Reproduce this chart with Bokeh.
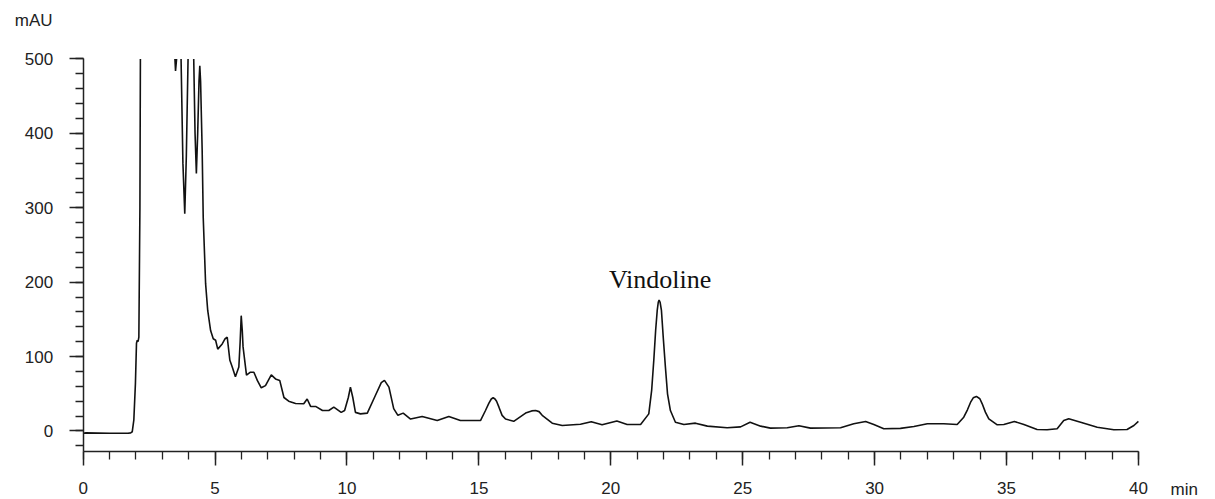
from bokeh.plotting import figure
from bokeh.models import Range1d, FixedTicker, Label, BoxAnnotation
from bokeh.embed import file_html
from bokeh.resources import INLINE

# Retention time (min) and absorbance (mAU)
# (values above the 500 mAU full scale are off-chart and only their crossings show)
time_min = [
    0.00, 0.10, 1.00, 1.70, 1.80, 1.86, 1.92, 1.98, 2.02, 2.05, 2.08, 2.11, 2.15, 2.17, 2.25,
    3.30, 3.45, 3.50, 3.54, 3.58, 3.68, 3.72, 3.78, 3.85, 3.91, 3.98, 4.05, 4.15, 4.19, 4.24,
    4.29, 4.34, 4.39, 4.42, 4.45, 4.51, 4.55, 4.64, 4.72, 4.83, 4.93, 5.02, 5.10, 5.27, 5.38,
    5.46, 5.56, 5.65, 5.77, 5.90, 5.95, 5.99, 6.03, 6.06, 6.19, 6.34, 6.47, 6.60, 6.75, 6.91,
    7.13, 7.29, 7.45, 7.61, 7.79, 8.05, 8.36, 8.49, 8.62, 8.81, 9.07, 9.31, 9.50, 9.78, 9.91,
    10.05, 10.13, 10.22, 10.32, 10.51, 10.77, 11.08, 11.30, 11.42, 11.59, 11.77, 11.93, 12.13,
    12.41, 12.85, 13.42, 13.86, 14.30, 15.06, 15.25, 15.38, 15.47, 15.54, 15.61, 15.67, 15.76,
    15.88, 16.01, 16.32, 16.77, 17.00, 17.15, 17.28, 17.40, 17.78, 18.16, 18.85, 19.26, 19.67,
    20.23, 20.62, 21.13, 21.44, 21.55, 21.63, 21.70, 21.76, 21.80, 21.83, 21.87, 21.92, 21.99,
    22.07, 22.15, 22.26, 22.45, 22.77, 23.21, 23.66, 24.41, 24.92, 25.28, 25.68, 26.05, 26.69,
    27.13, 27.57, 28.71, 29.21, 29.66, 29.97, 30.35, 30.98, 31.49, 32.00, 32.62, 33.13, 33.38,
    33.52, 33.64, 33.74, 33.86, 33.99, 34.08, 34.20, 34.33, 34.65, 34.90, 35.30, 35.66, 36.16,
    36.54, 36.92, 37.17, 37.36, 37.81, 38.44, 39.07, 39.57, 39.83, 40.00,
]
absorbance_mau = [
    -3, -2.5, -3, -3, -2.5, -1, 15, 64, 118, 122, 120, 126, 300, 520, 570,
    570, 520, 484, 500, 570, 560, 480, 360, 292, 370, 510, 570, 560, 500, 400,
    346, 400, 470, 491, 470, 377, 287, 198, 162, 135, 124, 122, 110, 117, 124,
    126, 95, 86, 73, 86, 120, 155, 135, 113, 75, 79, 79, 68, 58, 61,
    75.5, 70, 68, 45, 40, 37, 36.5, 43, 33, 33, 27.5, 27.5, 32, 25, 27.5,
    45, 59, 45, 25, 23, 24, 48, 65, 68, 59, 30, 21, 24,
    16, 19.5, 14, 19.5, 14, 14, 27.5, 37.4, 43, 44.6, 43, 40, 32,
    21, 16, 13, 24, 27, 27.5, 26, 21, 10.5, 7.4, 9, 12.5, 8.3,
    13.5, 8.7, 8.7, 23, 55, 95, 135, 162, 173, 176, 173, 162, 125,
    86, 50, 27.5, 11.8, 8.7, 10.5, 6.5, 4.3, 5.5, 11.8, 6.5, 3.8, 4.3,
    7, 3.8, 4.3, 9.7, 12.8, 8.7, 3, 3.5, 6, 9.7, 9.7, 8.7, 18.5,
    28.5, 38.7, 44.6, 46.4, 43.3, 36.5, 25.3, 16.4, 8.3, 8.7, 12.8, 8.7, 2,
    1.6, 3, 14, 16.4, 11.8, 5.1, 1.6, 2, 7.4, 12.8,
]

x_major = [0, 5, 10, 15, 20, 25, 30, 35, 40]
x_minor = list(range(0, 41))
y_major = [0, 100, 200, 300, 400, 500]
y_minor = list(range(-20, 501, 20))

x_axis_bounds = (0, 40)
y_axis_bounds = (-27, 500)

peak_name = "Vindoline"
peak_time = 21.87
peak_label_y = 203.6

AX = "#222222"

# The frame fills the whole canvas; the axes sit at fixed data locations so that
# the unit labels ("mAU", "min") outside the axes area can still be drawn.
p = figure(width=1207, height=499, output_backend="svg", toolbar_location=None,
           x_range=Range1d(-3.135, 42.62), y_range=Range1d(-92.1, 578.6),
           min_border=0)
p.outline_line_color = None
p.xgrid.visible = False
p.ygrid.visible = False
p.background_fill_color = "white"
p.border_fill_color = "white"

p.line(time_min, absorbance_mau, line_color="#111111", line_width=1.6)

# signal above full scale is cut off at the top of the y axis
p.add_layout(BoxAnnotation(left=x_axis_bounds[0], right=x_axis_bounds[1], bottom=y_axis_bounds[1],
                           fill_color="white", fill_alpha=1.0, line_color=None, level="glyph"))

for ax in (p.xaxis[0], p.yaxis[0]):
    ax.axis_line_color = AX
    ax.axis_line_width = 1.5
    ax.major_tick_line_color = AX
    ax.major_tick_line_width = 1.5
    ax.minor_tick_line_color = AX
    ax.minor_tick_line_width = 1.3
    ax.major_tick_in = 0
    ax.major_tick_out = 14
    ax.minor_tick_in = 0
    ax.minor_tick_out = 8
    ax.major_label_text_font = "Liberation Sans"
    ax.major_label_text_font_size = "17px"
    ax.major_label_text_color = AX

p.xaxis[0].ticker = FixedTicker(ticks=x_major, minor_ticks=x_minor)
p.yaxis[0].ticker = FixedTicker(ticks=y_major, minor_ticks=y_minor)
p.xaxis[0].bounds = x_axis_bounds
p.yaxis[0].bounds = y_axis_bounds
p.xaxis[0].fixed_location = y_axis_bounds[0]
p.yaxis[0].fixed_location = x_axis_bounds[0]
p.xaxis[0].major_label_standoff = 17
p.yaxis[0].major_label_standoff = 16

p.add_layout(Label(x=-1.16, y=551.5, text="mAU", text_align="right", text_baseline="middle",
                   text_font="Liberation Sans", text_font_size="17px", text_color=AX))
p.add_layout(Label(x=41.22, y=-78.6, text="min", text_align="left", text_baseline="middle",
                   text_font="Liberation Sans", text_font_size="17px", text_color=AX))
p.add_layout(Label(x=peak_time, y=peak_label_y, text=peak_name, text_align="center",
                   text_baseline="middle", text_font="Liberation Serif",
                   text_font_size="26px", text_color="#111111"))

open("out.html", "w").write(file_html(p, INLINE))
